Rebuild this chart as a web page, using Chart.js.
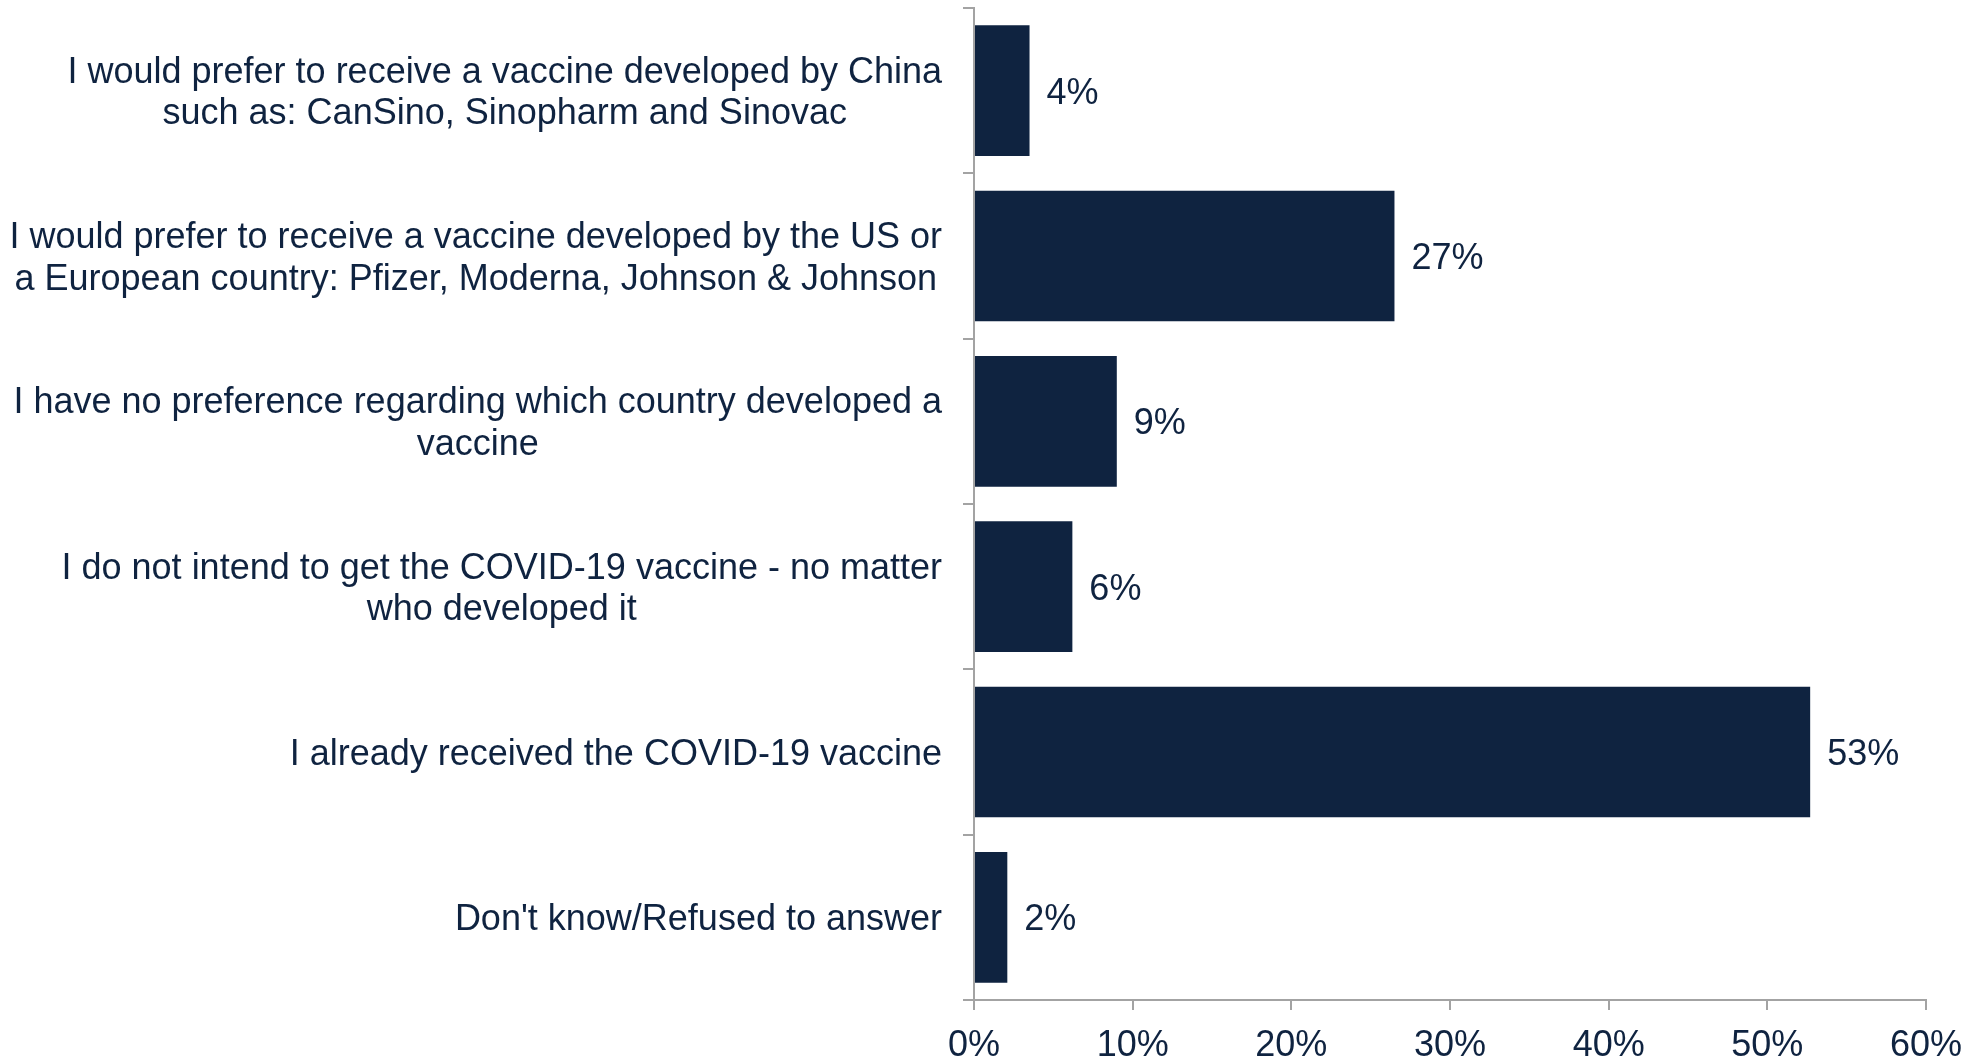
<!DOCTYPE html>
<html>
<head>
<meta charset="utf-8">
<script src="https://cdn.jsdelivr.net/npm/chart.js@4.4.0/dist/chart.umd.min.js"></script>
<style>
  html, body { margin: 0; padding: 0; background: #ffffff; }
  #wrap { width: 1977px; height: 1060px; }
</style>
</head>
<body>
<div id="wrap"><canvas id="c" width="1977" height="1060"></canvas></div>
<script>
const categories = [
  ["I would prefer to receive a vaccine developed by China", "such as: CanSino, Sinopharm and Sinovac"],
  ["I would prefer to receive a vaccine developed by the US or", "a European country: Pfizer, Moderna, Johnson & Johnson"],
  ["I have no preference regarding which country developed a", "vaccine"],
  ["I do not intend to get the COVID-19 vaccine - no matter", "who developed it"],
  ["I already received the COVID-19 vaccine"],
  ["Don't know/Refused to answer"]
];
const values = [3.5, 26.5, 9.0, 6.2, 52.7, 2.1];
const valueLabels = ["4%", "27%", "9%", "6%", "53%", "2%"];
const xTicks = [0, 10, 20, 30, 40, 50, 60];

const NAVY = '#0f2340';
const GRAY = '#a3a3a3';
const FONT_FAMILY = '"Liberation Sans Narrow", "Arial Narrow", sans-serif';
const FONT_SIZE = 36;

const catLabelPlugin = {
  id: 'catLabels',
  afterDraw(chart) {
    const ctx = chart.ctx;
    const y = chart.scales.y;
    const area = chart.chartArea;
    const rightEdge = area.left - 32;
    const lh = 41.6;
    ctx.save();
    ctx.font = FONT_SIZE + 'px ' + FONT_FAMILY;
    ctx.fillStyle = NAVY;
    ctx.textAlign = 'center';
    ctx.textBaseline = 'middle';
    categories.forEach((lines, i) => {
      const cy = y.getPixelForValue(i) + 3;
      const maxW = Math.max(...lines.map(l => ctx.measureText(l).width));
      const cx = rightEdge - maxW / 2;
      const startY = cy - (lines.length - 1) * lh / 2;
      lines.forEach((l, j) => ctx.fillText(l, cx, startY + j * lh));
    });
    ctx.restore();
  }
};

const valueLabelPlugin = {
  id: 'valueLabels',
  afterDatasetsDraw(chart) {
    const ctx = chart.ctx;
    const meta = chart.getDatasetMeta(0);
    ctx.save();
    ctx.font = FONT_SIZE + 'px ' + FONT_FAMILY;
    ctx.fillStyle = NAVY;
    ctx.textAlign = 'left';
    ctx.textBaseline = 'middle';
    meta.data.forEach((bar, i) => {
      ctx.fillText(valueLabels[i], bar.x + 17, bar.y + 3);
    });
    ctx.restore();
  }
};

new Chart(document.getElementById('c'), {
  type: 'bar',
  data: {
    labels: categories.map(c => c.join(' ')),
    datasets: [{
      data: values,
      backgroundColor: NAVY,
      borderWidth: 0,
      categoryPercentage: 1.0,
      barPercentage: 0.79
    }]
  },
  options: {
    indexAxis: 'y',
    responsive: false,
    animation: false,
    devicePixelRatio: 1,
    layout: { padding: { top: 8, right: 51, left: 0, bottom: 0 } },
    plugins: { legend: { display: false }, tooltip: { enabled: false } },
    scales: {
      x: {
        min: 0, max: 60,
        afterBuildTicks(scale) { scale.ticks = xTicks.map(v => ({ value: v })); },
        afterFit(scale) { scale.height = 60; },
        ticks: {
          callback: v => v + '%',
          color: NAVY,
          font: { family: FONT_FAMILY, size: FONT_SIZE },
          padding: 14,
          maxRotation: 0
        },
        grid: { drawOnChartArea: false, drawTicks: true, tickLength: 10, color: GRAY, lineWidth: 2 },
        border: { display: true, color: GRAY, width: 2 }
      },
      y: {
        afterFit(scale) { scale.width = 974; },
        ticks: { display: false },
        grid: { offset: true, drawOnChartArea: false, drawTicks: true, tickLength: 11, color: GRAY, lineWidth: 2 },
        border: { display: true, color: GRAY, width: 2 }
      }
    }
  },
  plugins: [catLabelPlugin, valueLabelPlugin]
});
</script>
</body>
</html>
